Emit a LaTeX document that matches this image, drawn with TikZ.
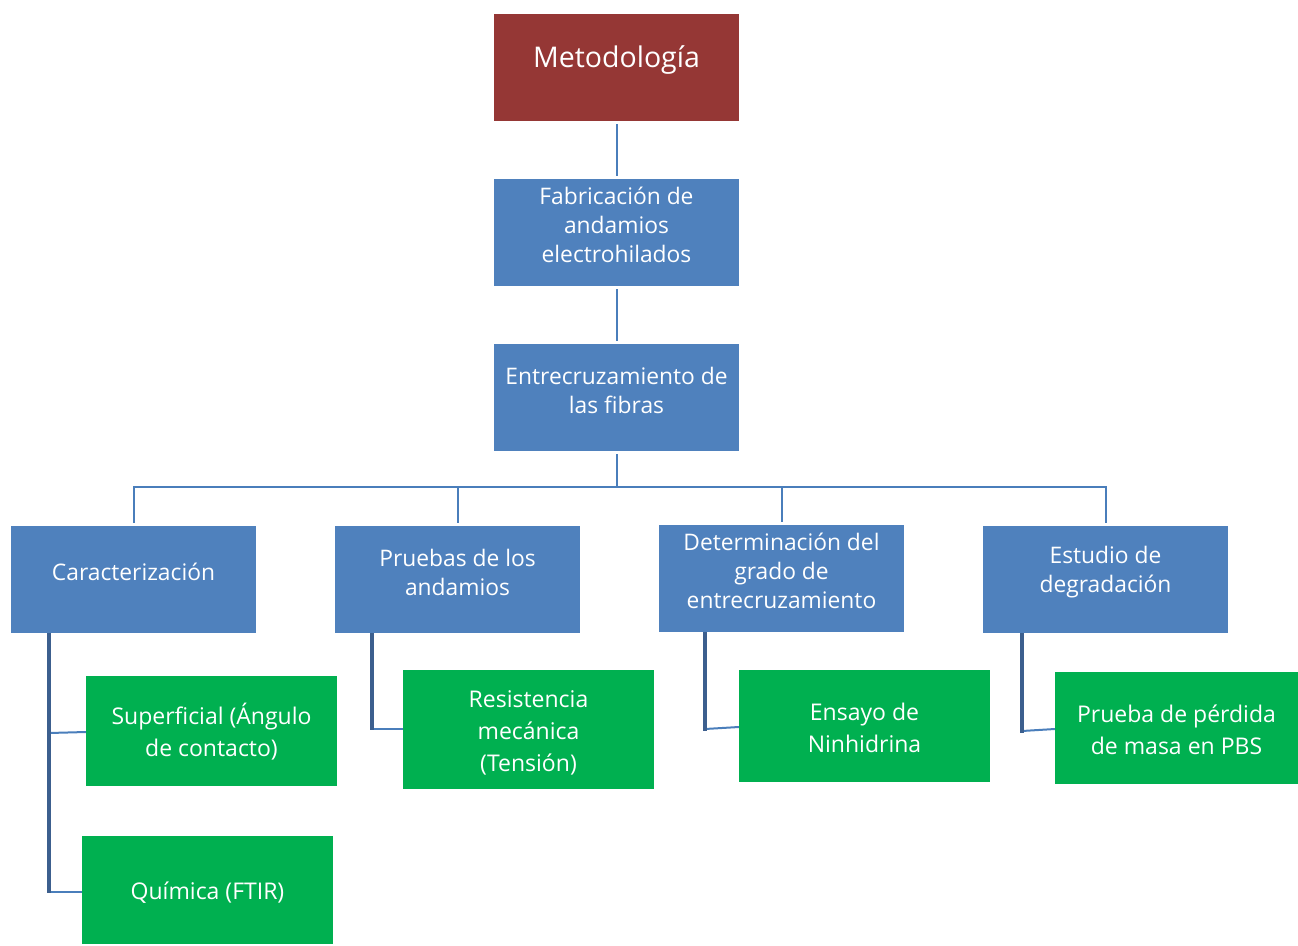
\documentclass[tikz,border=0pt]{standalone}
\usepackage{fontspec}
\setmainfont{Open Sans}
\usetikzlibrary{calc}
\definecolor{cred}{HTML}{953735}
\definecolor{cblue}{HTML}{4F81BD}
\definecolor{cgreen}{HTML}{00B050}
\definecolor{cline}{HTML}{4A7EBB}
\definecolor{cthick}{HTML}{3C5F8E}
\tikzset{
  box/.style={draw=none, inner sep=0pt, minimum width=245pt, minimum height=107pt},
  redbox/.style={box, fill=cred},
  bluebox/.style={box, fill=cblue},
  greenbox/.style={box, fill=cgreen, minimum width=251pt},
  txt/.style={text=white, align=center, font=\fontsize{22.8}{29}\selectfont, inner sep=0pt},
  gtxt/.style={text=white, align=center, font=\fontsize{23}{32}\selectfont, inner sep=0pt},
  thinline/.style={draw=cline, line width=2pt},
  thickline/.style={draw=cthick, line width=4pt},
}
\begin{document}
\begin{tikzpicture}[x=1pt,y=-1pt]
\useasboundingbox (0,0) rectangle (1298,945);
% level 0/1
\node[redbox] (met) at (616.5,67.5) {};
\node[text=white, font=\fontsize{28.5}{32}\selectfont, inner sep=0pt] (mett) at (616.5,60) {Metodología};
\node[bluebox] (fab) at (616.5,232.5) {};
\node[txt] (fabt) at (616.5,225) {Fabricación de\\andamios\\electrohilados};
\node[bluebox] (ent) at (616.5,397.5) {};
\node[txt] (entt) at (616.5,390.5) {Entrecruzamiento de\\las fibras};
% level 2
\node[bluebox] (car) at (133.5,579.5) {};
\node[txt] (cart) at (133.5,572) {Caracterización};
\node[bluebox] (pru) at (457.5,579.5) {};
\node[txt] (prut) at (457.5,572.5) {Pruebas de los\\andamios};
\node[bluebox] (det) at (781.5,578.5) {};
\node[txt] (dett) at (781.5,571) {Determinación del\\grado de\\entrecruzamiento};
\node[bluebox] (est) at (1105.5,579.5) {};
\node[txt] (estt) at (1105.5,572.5) {Estudio de\\degradación};
% level 3
\node[greenbox, minimum height=110pt] (sup) at (211.5,731) {};
\node[gtxt] (supt) at (211.5,732) {Superficial (Ángulo\\de contacto)};
\node[greenbox, minimum height=108pt] (qui) at (207.5,890) {};
\node[gtxt] (quit) at (207.5,893) {Química (FTIR)};
\node[greenbox, minimum height=119pt] (res) at (528.5,729.5) {};
\node[gtxt] (rest) at (528.5,733) {Resistencia\\mecánica\\(Tensión)};
\node[greenbox, minimum height=112pt] (ens) at (864.5,726) {};
\node[gtxt] (enst) at (864.5,728) {Ensayo de\\Ninhidrina};
\node[greenbox, minimum width=243pt, minimum height=112pt] (pba) at (1176.5,728) {};
\node[gtxt] (pbat) at (1176.5,730) {Prueba de pérdida\\de masa en PBS};
% vertical trunk
\draw[thinline] ([yshift=-3pt]met.south) -- ([yshift=3pt]fab.north);
\draw[thinline] ([yshift=-3pt]fab.south) -- ([yshift=3pt]ent.north);
\coordinate (bus) at (616.5,487);
\draw[thinline] ([yshift=-3pt]ent.south) -- (bus);
\draw[thinline] ([yshift=3pt]car.north) -- (car.north |- bus) -- (est.north |- bus) -- ([yshift=3pt]est.north);
\draw[thinline] ([yshift=3pt]pru.north) -- (pru.north |- bus);
\draw[thinline] ([yshift=3pt]det.north) -- (det.north |- bus);
% branches to green boxes
\coordinate (c1) at (49,633);
\coordinate (c2) at (372,633);
\coordinate (c3) at (705,632);
\coordinate (c4) at (1022,633);
\draw[thinline] (49,733) -- (sup.west |- 0,732);
\draw[thinline] (49,892) -- (qui.west |- 0,892);
\draw[thinline] (372,729) -- (res.west |- 0,729);
\draw[thinline] (705,729) -- (ens.west |- 0,727);
\draw[thinline] (1022,731) -- (pba.west |- 0,729);
\draw[thickline] (c1) -- (49,893);
\draw[thickline] (c2) -- (372,730);
\draw[thickline] (c3) -- (705,731);
\draw[thickline] (c4) -- (1022,733);
\end{tikzpicture}
\end{document}
